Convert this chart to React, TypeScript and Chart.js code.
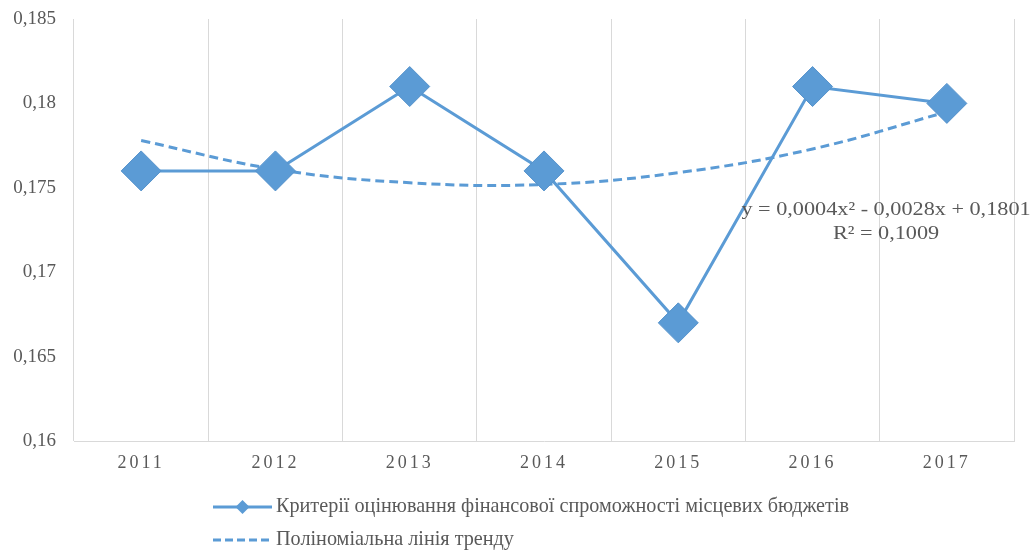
import React, { useEffect, useRef } from "react";
import { Chart, registerables } from "chart.js";

Chart.register(...registerables);

const categories = ["2011", "2012", "2013", "2014", "2015", "2016", "2017"];
const seriesValues = [0.176, 0.176, 0.181, 0.176, 0.167, 0.181, 0.18];
const trendValues = [0.1778, 0.1761, 0.1753, 0.1752, 0.1759, 0.1773, 0.1795];
const yTicks = [0.16, 0.165, 0.17, 0.175, 0.18, 0.185];
const seriesLabel = "Критерії оцінювання фінансової спроможності місцевих бюджетів";
const trendLabel = "Поліноміальна лінія тренду";
const equationLines = ["y = 0,0004x² - 0,0028x + 0,1801", "R² = 0,1009"];
const equationAnchor = { index: 5.547, value: 0.1737 };

const BLUE = "#5B9BD5";
const TEXT = "#595959";
const GRID = "#D9D9D9";
const SERIF = "'Liberation Serif', 'Times New Roman', serif";

const fmt = (v: number) => {
  let s = Number(v).toFixed(3);
  s = s.replace(/0+$/, "").replace(/\.$/, "");
  return s.replace(".", ",");
};

const customDraw = {
  id: "customDraw",
  afterDraw(chart: any) {
    const ctx = chart.ctx as CanvasRenderingContext2D;
    const xs = chart.scales.x;
    const ys = chart.scales.y;
    // x labels with letter spacing
    ctx.save();
    ctx.fillStyle = TEXT;
    ctx.font = `18px ${SERIF}`;
    ctx.textAlign = "center";
    ctx.textBaseline = "middle";
    const sp = 3;
    (ctx as any).letterSpacing = sp + "px";
    categories.forEach((c, i) => {
      ctx.fillText(c, xs.getPixelForValue(i), chart.chartArea.bottom + 22);
    });
    (ctx as any).letterSpacing = "0px";
    ctx.restore();

    // trend equation
    ctx.save();
    ctx.fillStyle = TEXT;
    ctx.font = `19px ${SERIF}`;
    ctx.textAlign = "center";
    ctx.textBaseline = "middle";
    const ex = xs.getPixelForValue(equationAnchor.index);
    const ey = ys.getPixelForValue(equationAnchor.value);
    const sx = 1.17;
    ctx.translate(ex, ey);
    ctx.scale(sx, 1);
    equationLines.forEach((t, i) => ctx.fillText(t, 0, i * 24));
    ctx.restore();

    // legend
    ctx.save();
    const lx0 = 213, lx1 = 272, tx = 276;
    const y1 = 507, y2 = 540;
    ctx.strokeStyle = BLUE;
    ctx.lineWidth = 3;
    ctx.beginPath();
    ctx.moveTo(lx0, y1);
    ctx.lineTo(lx1, y1);
    ctx.stroke();
    ctx.fillStyle = BLUE;
    const cx = (lx0 + lx1) / 2, r = 7;
    ctx.beginPath();
    ctx.moveTo(cx, y1 - r);
    ctx.lineTo(cx + r, y1);
    ctx.lineTo(cx, y1 + r);
    ctx.lineTo(cx - r, y1);
    ctx.closePath();
    ctx.fill();
    ctx.setLineDash([8, 4]);
    ctx.beginPath();
    ctx.moveTo(lx0, y2);
    ctx.lineTo(lx1, y2);
    ctx.stroke();
    ctx.setLineDash([]);
    ctx.fillStyle = TEXT;
    ctx.font = `20.2px ${SERIF}`;
    ctx.textAlign = "left";
    ctx.textBaseline = "middle";
    ctx.fillText(seriesLabel, tx, y1);
    ctx.fillText(trendLabel, tx, y2);
    ctx.restore();
  },
};

export default function App() {
  const ref = useRef<HTMLCanvasElement | null>(null);
  useEffect(() => {
    document.body.style.margin = "0";
    const canvas = ref.current;
    if (!canvas) return;
    const chart = new Chart(canvas, {
      type: "line",
      data: {
        labels: categories,
        datasets: [
          {
            label: seriesLabel,
            data: seriesValues,
            borderColor: BLUE,
            backgroundColor: BLUE,
            borderWidth: 3,
            pointStyle: "rectRot",
            pointRadius: 20,
            pointHoverRadius: 20,
            pointBackgroundColor: BLUE,
            pointBorderColor: "#5592CB",
            pointBorderWidth: 1,
            tension: 0,
            clip: false,
          },
          {
            label: trendLabel,
            data: trendValues,
            borderColor: BLUE,
            borderWidth: 3,
            borderDash: [9, 5],
            pointRadius: 0,
            tension: 0.4,
            fill: false,
          },
        ],
      },
      options: {
        animation: false,
        responsive: true,
        maintainAspectRatio: false,
        layout: { autoPadding: false, padding: { top: 19, right: 21, left: 0, bottom: 0 } },
        plugins: {
          legend: { display: false },
          tooltip: { enabled: false },
        },
        scales: {
          x: {
            offset: true,
            grid: { display: true, color: GRID, lineWidth: 1, drawTicks: false, offset: true },
            border: { display: true, color: GRID, width: 1 },
            ticks: { display: false },
            afterFit: (s: any) => {
              s.height = 110;
              s.paddingLeft = 0;
              s.paddingRight = 0;
            },
          },
          y: {
            min: 0.16,
            max: 0.185,
            afterBuildTicks: (s: any) => {
              s.ticks = yTicks.map((v) => ({ value: v }));
            },
            grid: { display: false, drawTicks: false },
            border: { display: false },
            ticks: {
              padding: 18,
              color: TEXT,
              font: { family: SERIF, size: 19 },
              callback: (v: any) => fmt(Number(v)),
            },
            afterFit: (s: any) => {
              s.width = 74;
              s.paddingTop = 0;
              s.paddingBottom = 0;
            },
          },
        },
      },
      plugins: [customDraw],
    });
    return () => chart.destroy();
  }, []);
  return (
    <div style={{ width: 1035, height: 551, position: "relative" }}>
      <canvas ref={ref} />
    </div>
  );
}
